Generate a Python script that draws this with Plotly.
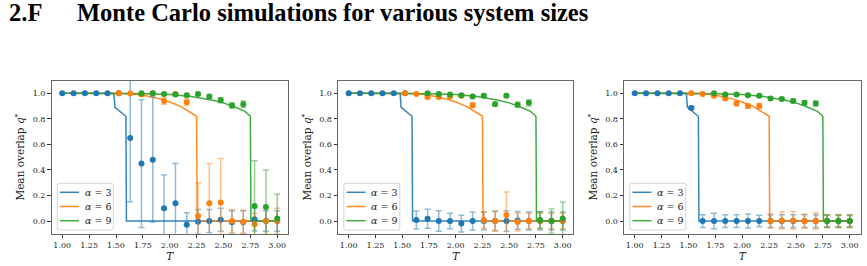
import plotly.graph_objects as go

# ---------------- data ----------------
T_sim = [1.000, 1.105, 1.211, 1.316, 1.421, 1.526, 1.632, 1.737, 1.842, 1.947,
         2.053, 2.158, 2.263, 2.368, 2.474, 2.579, 2.684, 2.789, 2.895, 3.000]
T_sim_a6 = T_sim[5:]
T_sim_a9 = T_sim[7:]

# theory curves (same in every panel)
T_th3 = [1.00, 1.48, 1.49, 1.592, 1.597, 3.00]
q_th3 = [1.0, 1.0, 0.89, 0.82, 0.0, 0.0]
T_th6 = [1.00, 1.50, 1.60, 1.70, 1.80, 1.90, 2.00, 2.10, 2.20, 2.25, 2.255, 3.00]
q_th6 = [1.0, 1.0, 0.998, 0.99, 0.977, 0.958, 0.932, 0.897, 0.85, 0.82, 0.0, 0.0]
T_th9 = [1.00, 1.50, 1.75, 2.00, 2.20, 2.40, 2.50, 2.60, 2.70, 2.75, 2.755, 3.00]
q_th9 = [1.0, 1.0, 0.997, 0.99, 0.975, 0.945, 0.925, 0.895, 0.858, 0.82, 0.0, 0.0]

# panel 1 (smallest system)
p1_a3 = [1.0, 1.0, 1.0, 1.0, 1.0, 1.0, 0.65, 0.45, 0.48, 0.10, 0.14, -0.03, -0.005, 0.0,
         0.01, -0.01, -0.01, 0.013, 0.0, 0.0]
p1_a3_err = [0.003, 0.003, 0.003, 0.003, 0.003, 0.005, 0.50, 0.50, 0.49, 0.26, 0.31, 0.095,
             0.095, 0.09, 0.09, 0.09, 0.09, 0.09, 0.08, 0.08]
p1_a6 = [1.0, 0.998, 0.99, 0.998, 0.94, 0.995, 0.93, 0.04, 0.14, 0.145, 0.0, -0.005,
         -0.025, 0.0, 0.0]
p1_a6_err = [0.005, 0.005, 0.01, 0.005, 0.025, 0.005, 0.025, 0.26, 0.31, 0.345, 0.09, 0.09,
             0.085, 0.1, 0.1]
p1_a9 = [1.0, 1.0, 0.995, 0.99, 0.985, 0.995, 0.975, 0.945, 0.905, 0.915, 0.117, 0.11, 0.02]
p1_a9_err = [0.004, 0.004, 0.006, 0.008, 0.01, 0.008, 0.012, 0.02, 0.02, 0.025, 0.355, 0.29, 0.19]

# panel 2
p2_a3 = [1.0, 1.0, 1.0, 1.0, 1.0, 1.0, 0.008, 0.018, 0.0, 0.0, -0.02, 0.0, 0.0, 0.0,
         0.0, 0.005, 0.0, 0.0, 0.0, 0.0]
p2_a3_err = [0.003, 0.003, 0.003, 0.003, 0.003, 0.004, 0.07, 0.075, 0.08, 0.06, 0.065, 0.07,
             0.07, 0.075, 0.08, 0.07, 0.07, 0.07, 0.07, 0.07]
p2_a6 = [1.0, 0.995, 0.97, 0.97, 0.975, 0.98, 0.906, 0.008, 0.0, 0.047, -0.008, 0.0,
         0.0, 0.0, 0.0]
p2_a6_err = [0.005, 0.005, 0.01, 0.01, 0.01, 0.01, 0.02, 0.065, 0.08, 0.18, 0.07, 0.06,
             0.06, 0.06, 0.06]
p2_a9 = [1.0, 0.995, 0.99, 0.985, 0.975, 0.98, 0.915, 0.98, 0.91, 0.925, 0.008, 0.0, 0.02]
p2_a9_err = [0.004, 0.005, 0.006, 0.008, 0.01, 0.01, 0.015, 0.01, 0.02, 0.025, 0.065, 0.095, 0.126]

# panel 3 (largest system)
p3_a3 = [1.0, 1.0, 1.0, 1.0, 1.0, 0.885, 0.0, 0.0, 0.0, 0.0, 0.0, 0.0, 0.0, 0.0,
         0.0, 0.0, 0.0, 0.0, 0.0, 0.0]
p3_a3_err = [0.003, 0.003, 0.003, 0.003, 0.003, 0.012, 0.05, 0.06, 0.05, 0.05, 0.055, 0.045,
             0.05, 0.05, 0.05, 0.05, 0.05, 0.05, 0.05, 0.05]
p3_a6 = [1.0, 0.995, 0.98, 0.96, 0.92, 0.90, 0.90, 0.0, 0.005, 0.005, 0.0, 0.0,
         0.0, 0.0, 0.0]
p3_a6_err = [0.005, 0.005, 0.01, 0.012, 0.015, 0.015, 0.02, 0.055, 0.065, 0.07, 0.055, 0.065,
             0.05, 0.05, 0.05]
p3_a9 = [1.0, 0.99, 0.99, 0.985, 0.98, 0.96, 0.955, 0.94, 0.925, 0.92, 0.0, 0.0, 0.0]
p3_a9_err = [0.004, 0.005, 0.006, 0.008, 0.01, 0.01, 0.012, 0.015, 0.015, 0.02, 0.045, 0.045, 0.042]

x_ticks = [1.00, 1.25, 1.50, 1.75, 2.00, 2.25, 2.50, 2.75, 3.00]
y_ticks = [0.0, 0.2, 0.4, 0.6, 0.8, 1.0]
legend_names = ["<i>α</i> = 3", "<i>α</i> = 6", "<i>α</i> = 9"]

# ---------------- styling ----------------
W, H = 867, 266
rgb = [(31, 119, 180), (255, 127, 14), (44, 160, 44)]
line_col = ["rgba(%d,%d,%d,0.9)" % c for c in rgb]
err_col = ["rgba(%d,%d,%d,0.5)" % c for c in rgb]
mk_col = ["rgb(%d,%d,%d)" % c for c in rgb]

# panel pixel boxes: (left, right)
panels_px = [(51.5, 288.0), (338.0, 573.4), (624.0, 860.5)]
top_px, bot_px = 80.5, 233.8

panels = [
    [(T_sim, p1_a3, p1_a3_err), (T_sim_a6, p1_a6, p1_a6_err), (T_sim_a9, p1_a9, p1_a9_err)],
    [(T_sim, p2_a3, p2_a3_err), (T_sim_a6, p2_a6, p2_a6_err), (T_sim_a9, p2_a9, p2_a9_err)],
    [(T_sim, p3_a3, p3_a3_err), (T_sim_a6, p3_a6, p3_a6_err), (T_sim_a9, p3_a9, p3_a9_err)],
]
theory = [(T_th3, q_th3), (T_th6, q_th6), (T_th9, q_th9)]

fig = go.Figure()
axis_font = dict(family="DejaVu Serif", size=8, color="#222")
layout = dict(
    width=W, height=H,
    margin=dict(l=0, r=0, t=0, b=0),
    paper_bgcolor="white", plot_bgcolor="white",
    showlegend=False,
)
shapes = []
annotations = []


def px_x(v):
    return v / W


def px_y(v):
    return (H - v) / H


for p in range(3):
    sfx = "" if p == 0 else str(p + 1)
    xa, ya = "x" + sfx, "y" + sfx
    for k in range(3):
        fig.add_trace(go.Scatter(
            x=theory[k][0], y=theory[k][1], mode="lines",
            line=dict(color=line_col[k], width=1.5),
            name=legend_names[k], xaxis=xa, yaxis=ya, hoverinfo="skip"))
    for k in range(3):
        xs, ys, es = panels[p][k]
        fig.add_trace(go.Scatter(
            x=xs, y=ys, mode="markers", name=legend_names[k],
            marker=dict(color=mk_col[k], size=6),
            error_y=dict(type="data", array=es, color=err_col[k], thickness=1.5, width=3),
            xaxis=xa, yaxis=ya))
    l, r = panels_px[p]
    layout["xaxis" + sfx] = dict(
        domain=[l / W, r / W], range=[0.9, 3.1], anchor=ya,
        tickvals=x_ticks, ticktext=["%.2f" % v for v in x_ticks],
        ticks="outside", ticklen=3.5, tickwidth=0.8, tickcolor="#333",
        showline=True, linecolor="#666", linewidth=1, mirror=True,
        showgrid=False, zeroline=False, tickfont=axis_font,
        title=dict(text="<i>T</i>", font=dict(family="DejaVu Serif", size=10.5, color="#222"),
                   standoff=2),
    )
    layout["yaxis" + sfx] = dict(
        domain=[(H - bot_px) / H, (H - top_px) / H], range=[-0.1, 1.1], anchor=xa,
        tickvals=y_ticks, ticktext=["%.1f" % v for v in y_ticks],
        ticks="outside", ticklen=3.5, tickwidth=0.8, tickcolor="#333",
        showline=True, linecolor="#666", linewidth=1, mirror=True,
        showgrid=False, zeroline=False, tickfont=axis_font,
        title=dict(text="Mean overlap <i>q</i><sup>*</sup>",
                   font=dict(family="DejaVu Serif", size=10.5, color="#222"), standoff=5),
    )
    # legend box (key), drawn in the lower-left corner of each panel
    bx0, bx1 = l + 5.8, l + 61.8
    by0, by1 = 183.3, 230.0
    shapes.append(dict(
        type="path", xref="paper", yref="paper", layer="above",
        path=("M {a},{b} L {c},{b} Q {d},{b} {d},{e} L {d},{f} Q {d},{g} {c},{g} "
              "L {a},{g} Q {h},{g} {h},{f} L {h},{e} Q {h},{b} {a},{b} Z").format(
            a=px_x(bx0 + 2), c=px_x(bx1 - 2), d=px_x(bx1), h=px_x(bx0),
            b=px_y(by0), e=px_y(by0 + 2), f=px_y(by1 - 2), g=px_y(by1)),
        line=dict(color="#d4d4d4", width=1), fillcolor="rgba(255,255,255,0.85)"))
    for k in range(3):
        ry = 192.3 + 14.2 * k
        shapes.append(dict(
            type="line", xref="paper", yref="paper", layer="above",
            x0=px_x(l + 8.5), x1=px_x(l + 27.5), y0=px_y(ry), y1=px_y(ry),
            line=dict(color=line_col[k], width=1.5)))
        annotations.append(dict(
            text=legend_names[k], x=px_x(l + 31.0), y=px_y(ry), xref="paper", yref="paper",
            xanchor="left", yanchor="middle", showarrow=False,
            font=dict(family="DejaVu Serif", size=9.5, color="#222")))

annotations += [
    dict(text="<b>2.F</b>", x=7 / W, y=1.0, xref="paper", yref="paper", yshift=3,
         xanchor="left", yanchor="top", showarrow=False,
         font=dict(family="Liberation Serif", size=24.5, color="black")),
    dict(text="<b>Monte Carlo simulations for various system sizes</b>", x=75 / W, y=1.0,
         yshift=3, xref="paper", yref="paper", xanchor="left", yanchor="top", showarrow=False,
         font=dict(family="Liberation Serif", size=24.5, color="black")),
]
layout["shapes"] = shapes
layout["annotations"] = annotations
fig.update_layout(**layout)
fig.write_html("out.html")
